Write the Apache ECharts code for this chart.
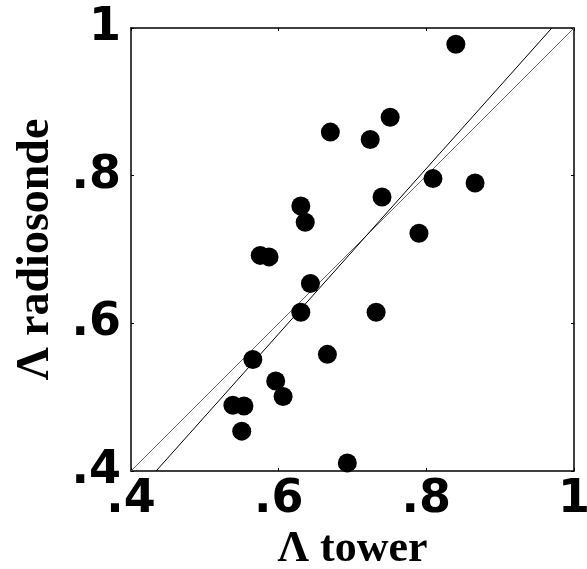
<!DOCTYPE html>
<html><head><meta charset="utf-8">
<script src="https://cdn.jsdelivr.net/npm/echarts@6/dist/echarts.min.js"></script>
<style>html,body{margin:0;padding:0;background:#fff}#c{width:587px;height:569px}</style>
</head><body><div id="c"></div>
<script>
const towerX = [0.840,0.670,0.724,0.751,0.809,0.866,0.740,0.630,0.636,0.790,0.575,0.587,0.643,0.630,0.732,0.666,0.565,0.596,0.606,0.538,0.553,0.550,0.693];
const radiosondeY = [0.978,0.859,0.849,0.879,0.796,0.790,0.771,0.759,0.737,0.722,0.692,0.690,0.654,0.615,0.615,0.558,0.551,0.522,0.501,0.489,0.488,0.454,0.411];
const fitLineX = [0.434,0.970];
const fitLineY = [0.4,1.0];
const oneToOneX = [0.4,1.0];
const oneToOneY = [0.4,1.0];
const tickLabels = {0.4:'.4',0.6:'.6',0.8:'.8',1:'1'};

const pts = towerX.map((x,i)=>[x,radiosondeY[i]]);
const fit = fitLineX.map((x,i)=>[x,fitLineY[i]]);
const one = oneToOneX.map((x,i)=>[x,oneToOneY[i]]);
const fmt = v => tickLabels[Math.round(v*10)/10] !== undefined ? tickLabels[Math.round(v*10)/10] : '';
const labelFont = {fontFamily:'DejaVu Sans',fontWeight:'bold',fontSize:46,color:'#000'};
const baseAxis = {min:0.4,max:1,interval:0.2,splitLine:{show:false},
  axisLine:{show:true,lineStyle:{color:'#000',width:1.5}},
  axisTick:{show:true,inside:true,length:3,lineStyle:{color:'#000',width:1}}};
const chart = echarts.init(document.getElementById('c'));
chart.setOption({
  animation:false,
  backgroundColor:'#fff',
  grid:{left:131,top:28,width:443,height:443,containLabel:false,outerBoundsMode:'none'},
  xAxis:[
    Object.assign({},baseAxis,{type:'value',position:'bottom',
      axisLabel:Object.assign({margin:6,formatter:fmt},labelFont),
      name:'Λ tower',nameLocation:'middle',nameGap:52,
      nameTextStyle:{fontFamily:'Liberation Serif',fontWeight:'bold',fontSize:44,color:'#000'}}),
    Object.assign({},baseAxis,{type:'value',position:'top',axisLabel:{show:false}})
  ],
  yAxis:[
    Object.assign({},baseAxis,{type:'value',position:'left',
      axisLabel:Object.assign({margin:10,formatter:fmt},labelFont),
      name:'Λ radiosonde',nameLocation:'middle',nameGap:72,
      nameTextStyle:{fontFamily:'Liberation Serif',fontWeight:'bold',fontSize:46,color:'#000'}}),
    Object.assign({},baseAxis,{type:'value',position:'right',axisLabel:{show:false}})
  ],
  series:[
    {type:'line',data:one,symbol:'none',lineStyle:{color:'#666',width:1},z:2},
    {type:'line',data:fit,symbol:'none',lineStyle:{color:'#000',width:1},z:2},
    {type:'scatter',data:pts,symbol:'circle',symbolSize:19,itemStyle:{color:'#000',opacity:1},z:3}
  ]
});
</script></body></html>
